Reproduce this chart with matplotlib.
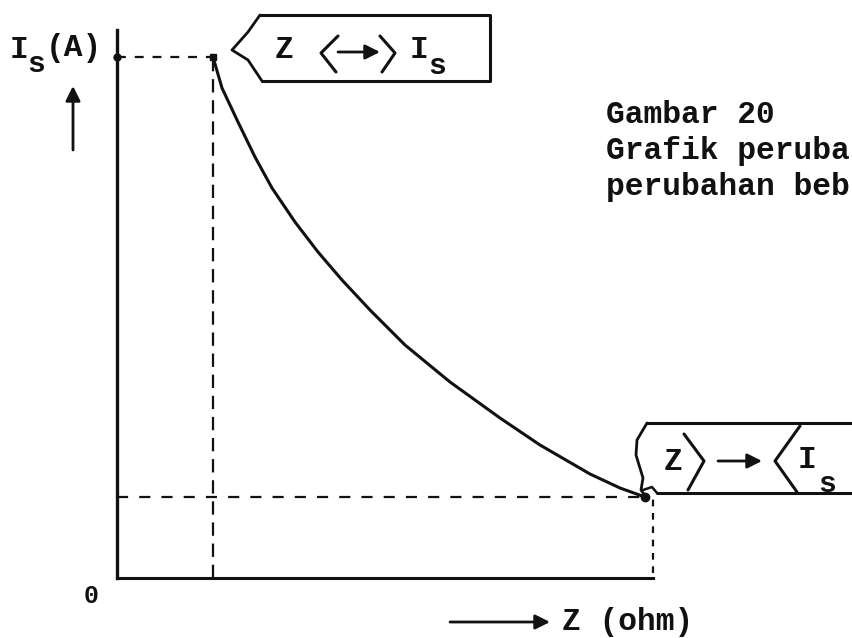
import matplotlib.pyplot as plt
import numpy as np

# Is versus Z curve (Z in ohm, Is in A, arbitrary scale units)
z_vals = [9.6, 10.5, 12.1, 13.8, 15.5, 17.8, 20.1, 22.5, 25.3, 28.8, 33.3, 38.3, 42.3, 47.3, 50.3, 52.8]
is_vals = [52.1, 49.0, 45.6, 42.1, 39.0, 35.6, 32.6, 29.8, 26.8, 23.3, 19.6, 16.0, 13.3, 10.4, 9.0, 8.1]

z_axis_end = 53.6
is_axis_top = 54.8

caption = ["Gambar 20", "Grafik peruba", "perubahan beb"]

FONT = "Liberation Mono"
FS = 22.5
INK = "#111111"


def px(x, y):
    # page position (pixels from top-left) -> data coords
    return (x - 117) / 10.0, (578 - y) / 10.0


def pline(pts, lw=2.0, **kw):
    xy = np.array([px(*p) for p in pts])
    ax.plot(xy[:, 0], xy[:, 1], color=INK, lw=lw, solid_capstyle="round",
            solid_joinstyle="round", **kw)


def ptext(x, y, s, size=FS, **kw):
    tx, ty = px(x, y)
    ax.text(tx, ty, s, fontsize=size, family=FONT, fontweight="bold",
            color=INK, va="center", **kw)


def parrow(x0, y0, x1, y1):
    ax.annotate("", xy=px(x1, y1), xytext=px(x0, y0),
                arrowprops=dict(arrowstyle="-|>", color=INK, lw=2.0,
                                mutation_scale=22, shrinkA=0, shrinkB=0))


fig = plt.figure(figsize=(8.53, 6.38), dpi=100)
ax = fig.add_axes([0, 0, 1, 1])
ax.set_xlim(-11.7, 73.6)
ax.set_ylim(-6.0, 57.8)
ax.axis("off")

# axes
ax.plot([0, 0], [0, is_axis_top], color=INK, lw=2.4)
ax.plot([0, z_axis_end], [0, 0], color=INK, lw=2.2)

# curve
ax.plot(z_vals, is_vals, color=INK, lw=2.2, solid_joinstyle="round",
        solid_capstyle="round")

# guide lines to the end points
dash = dict(color=INK, lw=1.6, linestyle=(0, (4, 4)))
ax.plot([0, z_vals[0]], [is_vals[0], is_vals[0]], **dash)
ax.plot([z_vals[0], z_vals[0]], [0, is_vals[0]], **dict(dash, linestyle=(0, (6, 3.5))))
ax.plot([0, z_vals[-1]], [is_vals[-1], is_vals[-1]], **dict(dash, linestyle=(0, (5, 5))))
ax.plot([z_axis_end, z_axis_end], [0.5, is_vals[-1]], **dict(dash, linestyle=(0, (3, 3))))

# end point dots
ax.plot([0], [is_vals[0]], "o", color=INK, ms=5)
ax.plot([z_vals[0]], [is_vals[0]], "s", color=INK, ms=5)
ax.plot([z_vals[-1]], [is_vals[-1]], "o", color=INK, ms=6)

# axis labels
ptext(10, 50, "I")
ptext(27, 64, "s", size=FS * 0.95)
ptext(46, 48, "(A)")
parrow(73, 150, 73, 86)
ptext(84, 596, "0", size=FS * 0.8)
parrow(450, 622, 550, 622)
ptext(562, 622, "Z (ohm)")

# top label box: Z <-> Is
pline([(260, 15), (490, 15), (490, 81), (262, 81)], lw=2.2)
pline([(260, 15), (248, 32), (232, 50), (248, 60), (262, 81)], lw=2.0)
ptext(275, 50, "Z")
pline([(338, 36), (321, 53), (336, 72)], lw=2.2)
pline([(380, 36), (395, 53), (382, 72)], lw=2.2)
parrow(338, 52, 380, 52)
ptext(410, 50, "I")
ptext(428, 66, "s", size=FS * 0.95)

# bottom label box: Z > Is
pline([(647, 423), (860, 423)], lw=2.2)
pline([(657, 493), (860, 493)], lw=2.2)
pline([(647, 423), (637, 440), (636, 455), (643, 478), (641, 490), (646, 497)], lw=2.0)
pline([(643, 490), (652, 487), (657, 493)], lw=1.8)
ptext(664, 462, "Z")
pline([(684, 434), (704, 461), (688, 490)], lw=2.2)
parrow(718, 461, 762, 461)
pline([(800, 426), (775, 461), (797, 492)], lw=2.2)
ptext(798, 460, "I")
ptext(818, 484, "s", size=FS * 0.95)

# caption
for i, line in enumerate(caption):
    ptext(606, 115 + i * 36, line)

fig.savefig("out.png", dpi=100, facecolor="white")
